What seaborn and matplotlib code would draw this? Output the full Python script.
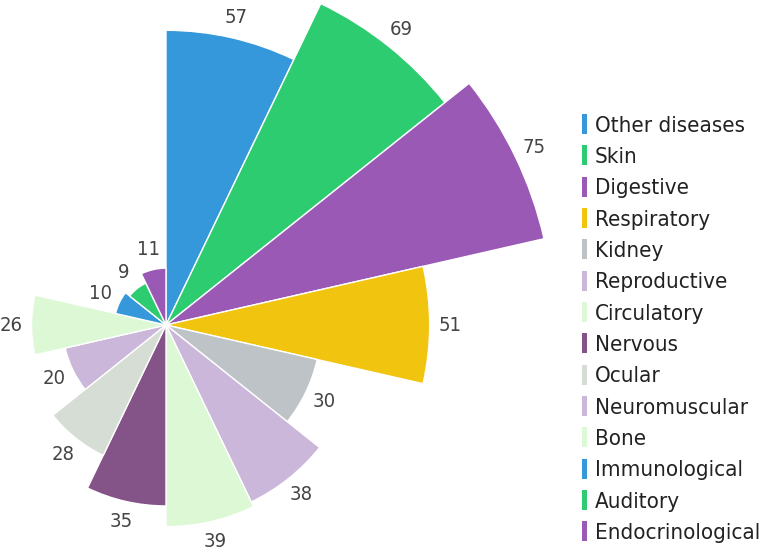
import numpy as np
import pandas as pd
import matplotlib
matplotlib.use("Agg")
import matplotlib.pyplot as plt
from matplotlib.patches import Patch
import seaborn as sns

categories = ["Other diseases", "Skin", "Digestive", "Respiratory", "Kidney",
              "Reproductive", "Circulatory", "Nervous", "Ocular", "Neuromuscular",
              "Bone", "Immunological", "Auditory", "Endocrinological"]
values = [57, 69, 75, 51, 30, 38, 39, 35, 28, 20, 26, 10, 9, 11]
colors = ["#3498db", "#2ecc71", "#9b59b6", "#f1c40f", "#bdc3c7",
          "#cbb7d9", "#dcf8d5", "#845488", "#d6ddd4", "#cbb7d9",
          "#dcf8d5", "#3498db", "#2ecc71", "#9b59b6"]

sns.set_theme(style="white")
plt.rcParams["font.family"] = ["DejaVu Sans"]
plt.rcParams["font.stretch"] = "condensed"

n = len(values)
step = 2 * np.pi / n
df = pd.DataFrame({
    "theta": np.arange(n) * step + step / 2,
    "value": values,
    "category": categories,
})

fig = plt.figure(figsize=(7.62, 5.51), dpi=100)
# polar axes placed so the centre lands at (166, 325) px
rmax = 80
px_per_unit = 5.17
R = rmax * px_per_unit
cx, cy = 166, 551 - 325
ax = fig.add_axes([(cx - R) / 762, (cy - R) / 551, 2 * R / 762, 2 * R / 551],
                  projection="polar")
ax.set_theta_zero_location("N")
ax.set_theta_direction(-1)

sns.barplot(data=df, x="theta", y="value", hue="category", palette=colors,
            hue_order=categories, native_scale=True, orient="x", width=1,
            dodge=False, errorbar=None, saturation=1, edgecolor="white",
            linewidth=1, legend=False, ax=ax)

ax.set_ylim(0, rmax)
ax.set_xlim(0, 2 * np.pi)
ax.set_axis_off()

for t, v in zip(df["theta"], values):
    ax.text(t, v + 4, str(v), ha="center", va="center", fontsize=14.5,
            color="#444444", clip_on=False)

handles = [Patch(facecolor=c, edgecolor="none") for c in colors]
leg = fig.legend(handles, categories, loc="upper left",
                 bbox_to_anchor=(582 / 762, 1 - 114 / 551),
                 frameon=False, fontsize=16, handlelength=0.22,
                 handleheight=1.0, handletextpad=0.35, labelspacing=0.44,
                 borderpad=0, borderaxespad=0)
for txt in leg.get_texts():
    txt.set_color("#222222")

fig.savefig("out.png", dpi=100)
